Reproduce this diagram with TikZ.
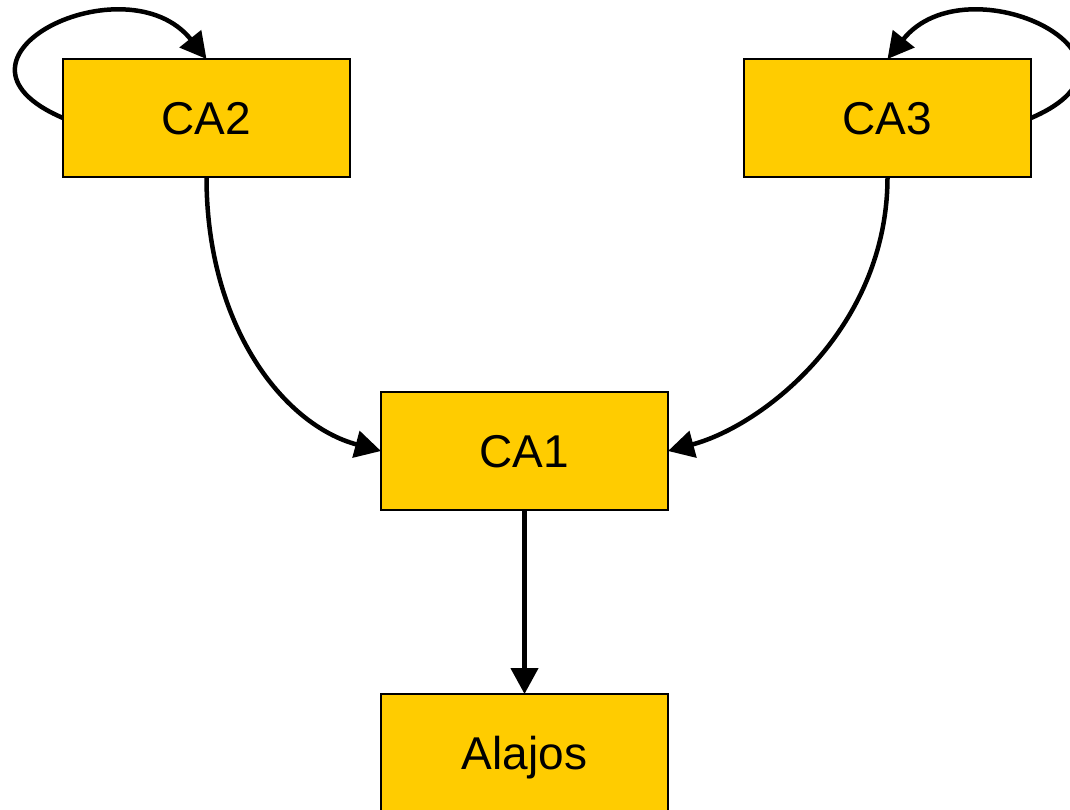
\documentclass[tikz,border=0pt]{standalone}
\usepackage{fontspec}
\setmainfont{Liberation Sans}
\usetikzlibrary{arrows.meta}
\definecolor{boxfill}{HTML}{FFCC00}
\begin{document}
\begin{tikzpicture}[x=1pt,y=-1pt,
  box/.style={draw=black,line width=1.5pt,fill=boxfill,minimum width=287pt,minimum height=118pt,inner sep=0pt,outer sep=0pt,text depth=0pt,font=\fontsize{46}{50}\selectfont},
  conn/.style={line width=4.5pt,-{Triangle[length=26pt,width=27pt]}}]
\useasboundingbox (0,0) rectangle (1070,809);
\node[box] (ca2) at (206.5,118) {CA2};
\node[box] (ca3) at (887.5,118) {CA3};
\node[box] (ca1) at (524.5,451) {CA1};
\node[box] (al) at (524.5,753) {Alajos};
\draw[conn] (ca2.west) .. controls +(-140,-60) and +(-80,-100) .. (ca2.north);
\draw[conn] (ca3.east) .. controls +(140,-60) and +(80,-100) .. (ca3.north);
\draw[conn] (ca2.south) .. controls +(0,150) and +(-97,-26) .. (ca1.west);
\draw[conn] (ca3.south) .. controls +(0,150) and +(97,-26) .. (ca1.east);
\draw[conn] (ca1.south) -- (al.north);
\end{tikzpicture}
\end{document}
